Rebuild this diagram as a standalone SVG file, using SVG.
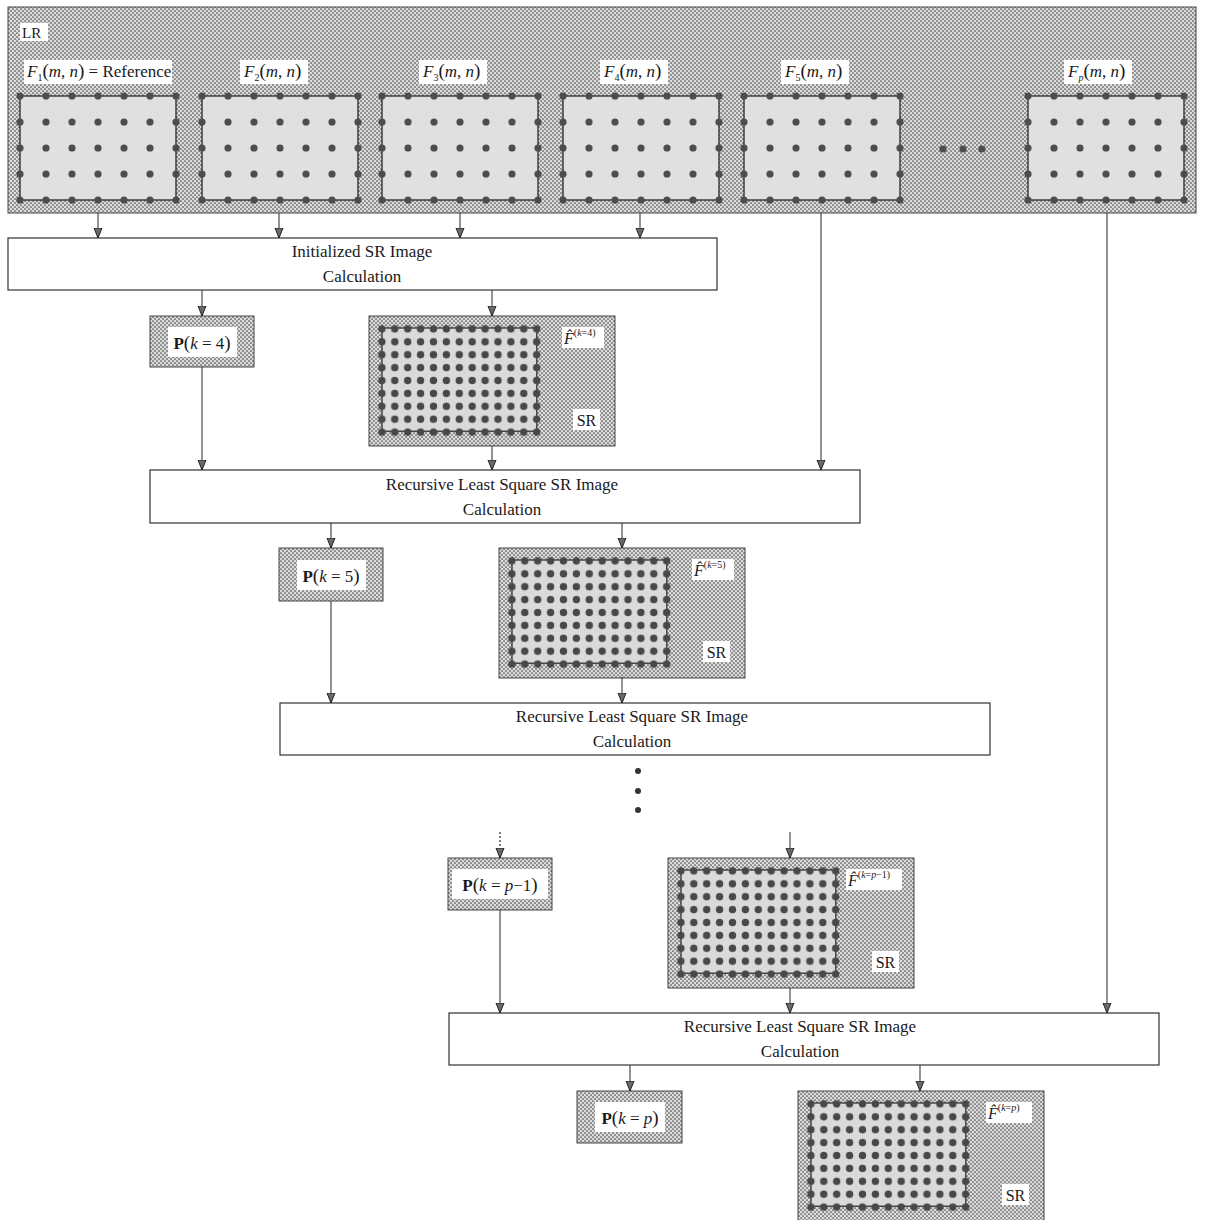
<svg xmlns="http://www.w3.org/2000/svg" width="1205" height="1220" viewBox="0 0 1205 1220">
<style>
  text { font-family: "Liberation Serif", "DejaVu Serif", "Times New Roman", serif; fill: #1a1a1a; }
  .lbl { font-size: 17px; }
  .it { font-style: italic; }
  .box { fill: #ffffff; stroke: #333333; stroke-width: 1.2; }
  .tex { fill: url(#tex); stroke: #444444; stroke-width: 1; }
  .white { fill: #ffffff; }
  .conn { stroke: #3a3a3a; stroke-width: 1.1; fill: none; marker-end: url(#arr); }
  .dotted { stroke: #3a3a3a; stroke-width: 1.3; fill: none; stroke-dasharray: 2 2; marker-end: url(#arr); }
  .frame { fill: #e0e0e0; stroke: #333333; stroke-width: 1.4; }
</style>
<defs>
  <pattern id="tex" width="4" height="4" patternUnits="userSpaceOnUse">
    <rect width="4" height="4" fill="#dcdcdc"/>
    <circle cx="1" cy="1" r="0.85" fill="#4a4a4a"/>
    <circle cx="3" cy="3" r="0.85" fill="#4a4a4a"/>
  </pattern>
  <pattern id="lrdots" x="-13" y="-13" width="26" height="26" patternUnits="userSpaceOnUse">
    <circle cx="13" cy="13" r="3.6" fill="#4d4d4d"/>
  </pattern>
  <pattern id="srdots" x="-6.45" y="-6.45" width="12.9" height="12.9" patternUnits="userSpaceOnUse">
    <circle cx="6.45" cy="6.45" r="3.7" fill="#484848"/>
  </pattern>
  <marker id="arr" viewBox="0 0 10 10" refX="10" refY="5" markerWidth="10" markerHeight="10" markerUnits="userSpaceOnUse" orient="auto">
    <path d="M0,1 L10,5 L0,9 z" fill="#6a6a6a" stroke="#222222" stroke-width="1"/>
  </marker>
  <g id="lrframe">
    <rect class="frame" x="0" y="0" width="156" height="104"/>
    <rect x="-5" y="-5" width="166" height="114" fill="url(#lrdots)"/>
  </g>
  <g id="srimg">
    <rect class="tex" x="0" y="0" width="246" height="130"/>
    <rect x="13" y="12" width="154.8" height="103.2" fill="#dadada" stroke="#333333" stroke-width="1.3"/>
    <rect x="7" y="6" width="167" height="116" fill="url(#srdots)"/>
    <rect class="white" x="204" y="93" width="27" height="21"/>
    <text x="217.5" y="110" font-size="16" text-anchor="middle">SR</text>
  </g>
</defs>

<!-- LR input block -->
<g id="lr">
  <rect class="tex" x="8" y="7" width="1188" height="206"/>
  <rect class="white" x="20" y="23" width="28" height="18"/>
  <text x="22" y="38" font-size="15">LR</text>

  <g id="f1">
    <rect class="white" x="24" y="60" width="148" height="24"/>
    <text x="27" y="77" font-size="17"><tspan class="it">F</tspan><tspan font-size="10" dy="4">1</tspan><tspan font-size="19" dy="-4">(</tspan><tspan class="it">m</tspan>, <tspan class="it">n</tspan><tspan font-size="19">)</tspan> = Reference</text>
    <use href="#lrframe" x="20" y="96"/>
  </g>
  <g id="f2">
    <rect class="white" x="240" y="60" width="68" height="24"/>
    <text x="244" y="77" font-size="17"><tspan class="it">F</tspan><tspan font-size="10" dy="4">2</tspan><tspan font-size="19" dy="-4">(</tspan><tspan class="it">m</tspan>, <tspan class="it">n</tspan><tspan font-size="19">)</tspan></text>
    <use href="#lrframe" x="202" y="96"/>
  </g>
  <g id="f3">
    <rect class="white" x="419" y="60" width="68" height="24"/>
    <text x="423" y="77" font-size="17"><tspan class="it">F</tspan><tspan font-size="10" dy="4">3</tspan><tspan font-size="19" dy="-4">(</tspan><tspan class="it">m</tspan>, <tspan class="it">n</tspan><tspan font-size="19">)</tspan></text>
    <use href="#lrframe" x="382" y="96"/>
  </g>
  <g id="f4">
    <rect class="white" x="600" y="60" width="68" height="24"/>
    <text x="604" y="77" font-size="17"><tspan class="it">F</tspan><tspan font-size="10" dy="4">4</tspan><tspan font-size="19" dy="-4">(</tspan><tspan class="it">m</tspan>, <tspan class="it">n</tspan><tspan font-size="19">)</tspan></text>
    <use href="#lrframe" x="563" y="96"/>
  </g>
  <g id="f5">
    <rect class="white" x="781" y="60" width="68" height="24"/>
    <text x="785" y="77" font-size="17"><tspan class="it">F</tspan><tspan font-size="10" dy="4">5</tspan><tspan font-size="19" dy="-4">(</tspan><tspan class="it">m</tspan>, <tspan class="it">n</tspan><tspan font-size="19">)</tspan></text>
    <use href="#lrframe" x="744" y="96"/>
  </g>
  <g id="lrdots-ellipsis" fill="#4d4d4d">
    <circle cx="943" cy="149" r="3.6"/>
    <circle cx="963" cy="149" r="3.6"/>
    <circle cx="982" cy="149" r="3.6"/>
  </g>
  <g id="fp">
    <rect class="white" x="1064" y="60" width="68" height="24"/>
    <text x="1068" y="77" font-size="17"><tspan class="it">F</tspan><tspan class="it" font-size="10" dy="4">p</tspan><tspan font-size="19" dy="-4">(</tspan><tspan class="it">m</tspan>, <tspan class="it">n</tspan><tspan font-size="19">)</tspan></text>
    <use href="#lrframe" x="1028" y="96"/>
  </g>
</g>

<!-- Processing boxes -->
<g id="init">
  <rect class="box" x="8" y="238" width="709" height="52"/>
  <text class="lbl" x="362" y="257" text-anchor="middle">Initialized SR Image</text>
  <text class="lbl" x="362" y="282" text-anchor="middle">Calculation</text>
</g>
<g id="rls1">
  <rect class="box" x="150" y="470" width="710" height="53"/>
  <text class="lbl" x="502" y="490" text-anchor="middle">Recursive Least Square SR Image</text>
  <text class="lbl" x="502" y="515" text-anchor="middle">Calculation</text>
</g>
<g id="rls2">
  <rect class="box" x="280" y="703" width="710" height="52"/>
  <text class="lbl" x="632" y="722" text-anchor="middle">Recursive Least Square SR Image</text>
  <text class="lbl" x="632" y="747" text-anchor="middle">Calculation</text>
</g>
<g id="rls3">
  <rect class="box" x="449" y="1013" width="710" height="52"/>
  <text class="lbl" x="800" y="1032" text-anchor="middle">Recursive Least Square SR Image</text>
  <text class="lbl" x="800" y="1057" text-anchor="middle">Calculation</text>
</g>

<!-- P matrices -->
<g id="p4">
  <rect class="tex" x="150" y="316" width="104" height="51"/>
  <rect class="white" x="168" y="327" width="69" height="30"/>
  <text x="202" y="349" font-size="17" text-anchor="middle"><tspan font-weight="bold">P</tspan><tspan font-size="19">(</tspan><tspan class="it">k</tspan> = 4<tspan font-size="19">)</tspan></text>
</g>
<g id="p5">
  <rect class="tex" x="279" y="548" width="104" height="53"/>
  <rect class="white" x="297" y="560" width="69" height="30"/>
  <text x="331" y="582" font-size="17" text-anchor="middle"><tspan font-weight="bold">P</tspan><tspan font-size="19">(</tspan><tspan class="it">k</tspan> = 5<tspan font-size="19">)</tspan></text>
</g>
<g id="pp1">
  <rect class="tex" x="448" y="858" width="104" height="52"/>
  <rect class="white" x="452" y="869" width="96" height="30"/>
  <text x="500" y="891" font-size="17" text-anchor="middle"><tspan font-weight="bold">P</tspan><tspan font-size="19">(</tspan><tspan class="it">k</tspan> = <tspan class="it">p</tspan>−1<tspan font-size="19">)</tspan></text>
</g>
<g id="pp">
  <rect class="tex" x="577" y="1091" width="105" height="52"/>
  <rect class="white" x="595" y="1102" width="70" height="30"/>
  <text x="630" y="1124" font-size="17" text-anchor="middle"><tspan font-weight="bold">P</tspan><tspan font-size="19">(</tspan><tspan class="it">k</tspan> = <tspan class="it">p</tspan><tspan font-size="19">)</tspan></text>
</g>

<!-- SR estimates -->
<g id="sr4">
  <use href="#srimg" x="369" y="316"/>
  <rect class="white" x="562" y="327" width="42" height="21"/>
  <text x="564" y="344" font-size="16"><tspan class="it">F̂</tspan><tspan font-size="10" dy="-8">(<tspan class="it">k</tspan>=4)</tspan></text>
</g>
<g id="sr5">
  <use href="#srimg" x="499" y="548"/>
  <rect class="white" x="692" y="559" width="42" height="21"/>
  <text x="694" y="576" font-size="16"><tspan class="it">F̂</tspan><tspan font-size="10" dy="-8">(<tspan class="it">k</tspan>=5)</tspan></text>
</g>
<g id="srp1">
  <use href="#srimg" x="668" y="858"/>
  <rect class="white" x="846" y="869" width="56" height="21"/>
  <text x="848" y="886" font-size="16"><tspan class="it">F̂</tspan><tspan font-size="10" dy="-8">(<tspan class="it">k</tspan>=<tspan class="it">p</tspan>−1)</tspan></text>
</g>
<g id="srp">
  <use href="#srimg" x="798" y="1091"/>
  <rect class="white" x="986" y="1102" width="46" height="21"/>
  <text x="988" y="1119" font-size="16"><tspan class="it">F̂</tspan><tspan font-size="10" dy="-8">(<tspan class="it">k</tspan>=<tspan class="it">p</tspan>)</tspan></text>
</g>

<!-- continuation dots -->
<g id="vdots" fill="#333333">
  <circle cx="638" cy="771" r="3"/>
  <circle cx="638" cy="791" r="3"/>
  <circle cx="638" cy="810" r="3"/>
</g>

<!-- Connectors -->
<g id="connectors">
  <line class="conn" x1="98" y1="213" x2="98" y2="238"/>
  <line class="conn" x1="279" y1="213" x2="279" y2="238"/>
  <line class="conn" x1="460" y1="213" x2="460" y2="238"/>
  <line class="conn" x1="640" y1="213" x2="640" y2="238"/>
  <line class="conn" x1="821" y1="213" x2="821" y2="470"/>
  <line class="conn" x1="1107" y1="213" x2="1107" y2="1013"/>
  <line class="conn" x1="202" y1="290" x2="202" y2="316"/>
  <line class="conn" x1="492" y1="290" x2="492" y2="316"/>
  <line class="conn" x1="202" y1="367" x2="202" y2="470"/>
  <line class="conn" x1="492" y1="446" x2="492" y2="470"/>
  <line class="conn" x1="331" y1="523" x2="331" y2="548"/>
  <line class="conn" x1="622" y1="523" x2="622" y2="548"/>
  <line class="conn" x1="331" y1="601" x2="331" y2="703"/>
  <line class="conn" x1="622" y1="677" x2="622" y2="703"/>
  <line class="dotted" x1="500" y1="832" x2="500" y2="858"/>
  <line class="conn" x1="790" y1="832" x2="790" y2="858"/>
  <line class="conn" x1="500" y1="910" x2="500" y2="1013"/>
  <line class="conn" x1="790" y1="988" x2="790" y2="1013"/>
  <line class="conn" x1="630" y1="1065" x2="630" y2="1091"/>
  <line class="conn" x1="920" y1="1065" x2="920" y2="1091"/>
</g>
</svg>
